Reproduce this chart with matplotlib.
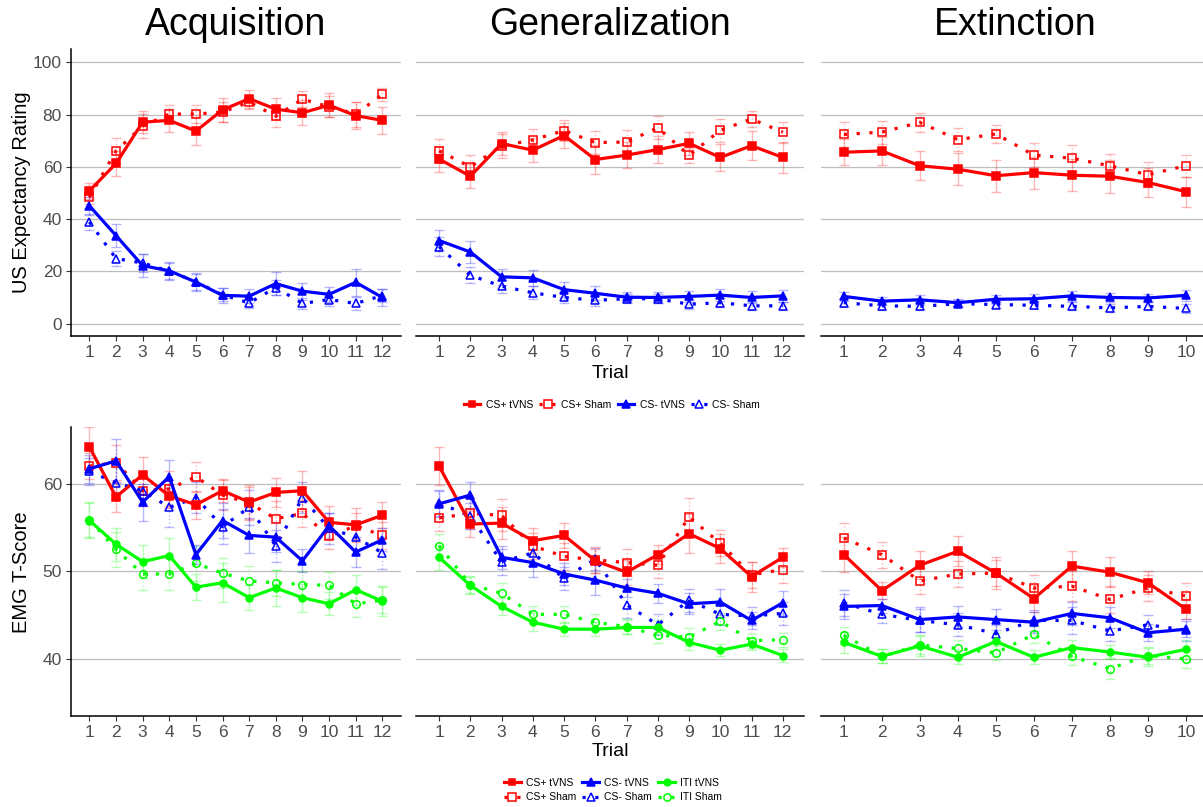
import matplotlib
matplotlib.use("Agg")
import matplotlib.pyplot as plt
from matplotlib.lines import Line2D

plt.rcParams['font.family'] = ['Liberation Sans', 'DejaVu Sans']

# ---------------- data ----------------
phases = ["Acquisition", "Generalization", "Extinction"]
trials_acq = list(range(1, 13))
trials_gen = list(range(1, 13))
trials_ext = list(range(1, 11))

# US expectancy rating (top row)
us_acq_csp_tvns = [50.8, 61.3, 77.1, 77.8, 73.7, 81.8, 86.1, 82.1, 80.7, 83.6, 79.6, 77.8]
us_acq_csp_tvns_se = [3.2, 4.9, 4.1, 4.3, 5.3, 4.7, 3.5, 4.3, 4.7, 4.6, 5.1, 5.2]
us_acq_csp_sham = [48.3, 66.1, 75.6, 80.2, 80.2, 81.0, 84.8, 79.4, 85.9, 83.0, 80.2, 87.7]
us_acq_csp_sham_se = [2.5, 4.8, 4.7, 3.6, 3.5, 4.0, 2.5, 4.3, 3.0, 4.0, 4.8, 2.5]
us_acq_csm_tvns = [45.1, 33.7, 22.2, 20.2, 15.9, 10.8, 10.5, 15.3, 12.4, 11.2, 15.8, 10.0]
us_acq_csm_tvns_se = [3.5, 4.4, 4.3, 3.5, 3.5, 2.9, 2.8, 4.4, 3.2, 2.8, 5.1, 3.1]
us_acq_csm_sham = [38.9, 24.9, 23.2, 20.1, 16.0, 11.0, 7.9, 13.8, 7.7, 9.2, 7.7, 10.7]
us_acq_csm_sham_se = [3.0, 3.0, 3.5, 3.0, 3.0, 2.5, 2.0, 3.0, 2.0, 2.5, 2.5, 2.5]

us_gen_csp_tvns = [63.0, 56.4, 68.9, 66.4, 72.0, 62.8, 64.5, 66.6, 69.0, 63.6, 68.1, 63.6]
us_gen_csp_tvns_se = [5.1, 4.5, 4.5, 4.7, 4.8, 5.4, 5.1, 5.1, 4.5, 5.3, 5.6, 5.9]
us_gen_csp_sham = [66.1, 60.0, 68.0, 70.3, 73.9, 69.3, 69.5, 75.0, 64.4, 74.0, 78.3, 73.3]
us_gen_csp_sham_se = [4.7, 4.5, 4.5, 4.0, 4.0, 4.5, 4.5, 4.5, 3.0, 4.5, 3.0, 4.0]
us_gen_csm_tvns = [31.8, 27.4, 17.9, 17.5, 13.0, 11.6, 10.1, 10.0, 10.4, 10.9, 10.0, 10.6]
us_gen_csm_tvns_se = [4.0, 4.3, 3.0, 3.1, 2.8, 2.6, 2.0, 2.0, 2.2, 2.3, 2.3, 2.4]
us_gen_csm_sham = [29.5, 18.5, 14.3, 11.8, 10.0, 8.9, 9.5, 9.5, 7.4, 8.0, 6.8, 6.8]
us_gen_csm_sham_se = [3.5, 3.0, 2.5, 2.5, 2.0, 2.0, 1.8, 1.8, 1.8, 1.8, 1.5, 1.5]

us_ext_csp_tvns = [65.6, 66.1, 60.4, 59.1, 56.6, 57.8, 56.8, 56.4, 54.0, 50.5]
us_ext_csp_tvns_se = [5.0, 5.3, 5.6, 6.1, 6.2, 6.1, 6.2, 6.4, 5.4, 5.8]
us_ext_csp_sham = [72.4, 73.3, 77.0, 70.4, 72.6, 64.5, 63.3, 60.4, 57.0, 60.4]
us_ext_csp_sham_se = [4.7, 4.4, 3.6, 4.5, 3.5, 4.7, 4.9, 4.7, 4.9, 4.1]
us_ext_csm_tvns = [10.4, 8.6, 9.1, 8.0, 9.3, 9.5, 10.6, 10.0, 9.8, 10.8]
us_ext_csm_tvns_se = [1.8, 1.6, 1.8, 1.3, 1.7, 1.8, 1.8, 1.8, 1.7, 2.0]
us_ext_csm_sham = [8.0, 6.8, 6.6, 7.6, 7.3, 7.0, 6.6, 6.0, 6.6, 5.8]
us_ext_csm_sham_se = [1.7, 1.5, 1.5, 1.3, 1.5, 1.5, 1.5, 1.5, 1.5, 1.7]

# EMG T-score (bottom row)
emg_acq_csp_tvns = [64.2, 58.5, 61.0, 58.6, 57.6, 59.2, 57.9, 59.0, 59.2, 55.6, 55.3, 56.4]
emg_acq_csp_tvns_se = [2.3, 1.7, 2.1, 1.4, 1.6, 1.3, 2.0, 1.7, 2.3, 1.8, 1.9, 1.5]
emg_acq_csp_sham = [62.0, 62.4, 59.2, 59.4, 60.8, 58.7, 57.8, 56.0, 56.6, 54.0, 55.2, 54.1]
emg_acq_csp_sham_se = [1.5, 2.0, 1.7, 2.0, 1.7, 1.7, 1.8, 2.0, 1.5, 1.5, 1.5, 1.5]
emg_acq_csm_tvns = [61.7, 62.6, 57.9, 60.8, 51.9, 55.8, 54.1, 53.9, 51.2, 55.2, 52.2, 53.6]
emg_acq_csm_tvns_se = [1.6, 2.5, 2.1, 1.9, 1.1, 2.0, 2.0, 1.7, 1.3, 1.5, 1.7, 1.3]
emg_acq_csm_sham = [61.4, 60.1, 59.2, 57.3, 58.4, 55.1, 57.3, 52.9, 58.4, 54.9, 53.9, 52.1]
emg_acq_csm_sham_se = [1.5, 1.8, 1.7, 2.2, 1.8, 2.0, 2.0, 1.8, 1.8, 1.8, 1.8, 1.8]
emg_acq_iti_tvns = [55.8, 53.1, 51.1, 51.8, 48.2, 48.7, 47.0, 48.1, 47.0, 46.3, 47.9, 46.6]
emg_acq_iti_tvns_se = [2.0, 1.9, 1.9, 2.0, 1.5, 2.2, 1.4, 2.0, 1.6, 1.3, 1.7, 1.7]
emg_acq_iti_sham = [55.9, 52.5, 49.7, 49.7, 50.9, 49.8, 48.9, 48.7, 48.5, 48.4, 46.3, 46.7]
emg_acq_iti_sham_se = [2.0, 2.0, 1.8, 1.8, 2.0, 1.7, 1.7, 1.5, 1.5, 1.5, 1.5, 1.5]

emg_gen_csp_tvns = [62.0, 55.4, 55.5, 53.5, 54.1, 51.2, 49.9, 51.9, 54.3, 52.6, 49.4, 51.6]
emg_gen_csp_tvns_se = [2.2, 1.5, 1.8, 1.4, 1.4, 1.4, 1.4, 1.1, 2.2, 1.7, 1.7, 1.1]
emg_gen_csp_sham = [56.1, 56.6, 56.4, 52.9, 51.7, 51.3, 51.0, 50.7, 56.2, 53.2, 49.6, 50.2]
emg_gen_csp_sham_se = [1.5, 1.8, 1.8, 1.5, 1.5, 1.5, 1.5, 1.5, 2.2, 1.5, 1.5, 1.5]
emg_gen_csm_tvns = [57.7, 58.7, 51.6, 51.0, 49.7, 49.0, 48.1, 47.5, 46.3, 46.5, 44.4, 46.4]
emg_gen_csm_tvns_se = [1.5, 1.5, 1.3, 1.6, 1.3, 1.7, 1.0, 1.1, 1.2, 1.5, 1.0, 1.4]
emg_gen_csm_sham = [57.8, 56.3, 51.1, 52.1, 49.2, 51.4, 46.2, 43.9, 46.7, 45.1, 44.9, 45.2]
emg_gen_csm_sham_se = [1.5, 1.5, 1.5, 1.2, 1.3, 1.3, 1.5, 1.2, 1.3, 1.2, 1.0, 1.3]
emg_gen_iti_tvns = [51.6, 48.4, 46.0, 44.2, 43.4, 43.4, 43.6, 43.6, 41.9, 41.0, 41.7, 40.4]
emg_gen_iti_tvns_se = [1.4, 1.0, 1.0, 1.0, 0.8, 0.8, 0.8, 0.8, 0.9, 0.7, 0.7, 0.7]
emg_gen_iti_sham = [52.9, 48.5, 47.5, 45.1, 45.1, 44.2, 43.7, 42.7, 42.5, 44.3, 42.1, 42.2]
emg_gen_iti_sham_se = [1.4, 1.0, 1.2, 1.0, 1.0, 0.9, 0.9, 0.9, 1.0, 1.0, 0.8, 0.8]

emg_ext_csp_tvns = [51.9, 47.8, 50.7, 52.3, 49.8, 46.9, 50.6, 49.9, 48.7, 45.7]
emg_ext_csp_tvns_se = [2.0, 1.0, 1.6, 1.7, 1.8, 1.5, 1.7, 1.7, 1.3, 1.1]
emg_ext_csp_sham = [53.8, 51.9, 48.9, 49.7, 49.8, 48.1, 48.3, 46.8, 48.1, 47.2]
emg_ext_csp_sham_se = [1.7, 1.5, 1.5, 1.5, 1.5, 1.5, 1.7, 1.5, 1.5, 1.5]
emg_ext_csm_tvns = [46.0, 46.1, 44.5, 44.8, 44.5, 44.2, 45.2, 44.7, 43.0, 43.4]
emg_ext_csm_tvns_se = [1.4, 0.8, 1.4, 1.2, 1.2, 1.2, 1.3, 1.2, 1.0, 0.9]
emg_ext_csm_sham = [46.4, 45.1, 44.4, 43.9, 42.9, 44.4, 44.4, 43.2, 43.9, 43.3]
emg_ext_csm_sham_se = [1.5, 1.0, 1.3, 1.3, 1.0, 1.2, 1.5, 1.2, 1.1, 1.3]
emg_ext_iti_tvns = [41.9, 40.3, 41.5, 40.2, 42.0, 40.2, 41.3, 40.8, 40.2, 41.1]
emg_ext_iti_tvns_se = [1.2, 0.8, 1.2, 0.8, 1.0, 0.8, 0.9, 0.8, 1.0, 1.1]
emg_ext_iti_sham = [42.7, 40.3, 41.6, 41.2, 40.7, 42.8, 40.3, 38.9, 40.4, 40.0]
emg_ext_iti_sham_se = [1.0, 0.8, 1.0, 1.0, 0.8, 1.0, 1.0, 1.2, 1.0, 1.0]

# ---------------- styling ----------------
RED, BLUE, GREEN = "#FF0000", "#0000FF", "#00FF00"
DOT = (0, (1, 3))
W, H = 1203, 807

fig = plt.figure(figsize=(W / 100, H / 100), dpi=100)

def px_axes(x0, y0, x1, y1):
    return fig.add_axes([x0 / W, 1 - y1 / H, (x1 - x0) / W, (y1 - y0) / H])

panel_x = [(71, 400.7), (416.3, 804.3), (820.7, 1208.7)]
xlims = [(0.31, 12.69), (0.27, 12.69), (0.39, 10.6)]
row_y = [(49.3, 335.6), (426.7, 716.0)]

def series(ax, x, m, se, color, marker, sham, ms):
    eb = ax.errorbar(x, m, yerr=se, fmt='none', ecolor=color, alpha=0.28,
                     elinewidth=1.0, capsize=3.5, capthick=1.0, zorder=2)
    if sham:
        for lc in eb[2]:
            lc.set_linestyle(':')
    ax.plot(x, m, color=color, lw=2.3, ls=DOT if sham else '-',
            marker=marker, ms=ms, mfc='none' if sham else color, mec=color,
            mew=1.1, zorder=3)

def style(ax, i, xl, ticks, ylim, yticks):
    ax.set_xlim(*xl)
    ax.set_ylim(*ylim)
    ax.set_xticks(ticks)
    ax.set_yticks(yticks)
    for s in ['top', 'right']:
        ax.spines[s].set_visible(False)
    ax.spines['bottom'].set_linewidth(1.1)
    ax.spines['bottom'].set_color('black')
    ax.yaxis.grid(True, color='#BEBEBE', lw=0.9)
    ax.set_axisbelow(True)
    ax.tick_params(axis='x', labelsize=12.5, labelcolor='#4D4D4D', color='#333333',
                   length=3.5, width=0.8, pad=3)
    if i == 0:
        ax.spines['left'].set_linewidth(1.1)
        ax.spines['left'].set_color('black')
        ax.tick_params(axis='y', labelsize=12.5, labelcolor='#4D4D4D', color='#333333',
                       length=3.5, width=0.8, pad=3)
    else:
        ax.spines['left'].set_visible(False)
        ax.tick_params(axis='y', length=0, labelleft=False)

trials = [trials_acq, trials_gen, trials_ext]

us_sets = [
    (us_acq_csp_tvns, us_acq_csp_tvns_se, us_acq_csp_sham, us_acq_csp_sham_se,
     us_acq_csm_tvns, us_acq_csm_tvns_se, us_acq_csm_sham, us_acq_csm_sham_se),
    (us_gen_csp_tvns, us_gen_csp_tvns_se, us_gen_csp_sham, us_gen_csp_sham_se,
     us_gen_csm_tvns, us_gen_csm_tvns_se, us_gen_csm_sham, us_gen_csm_sham_se),
    (us_ext_csp_tvns, us_ext_csp_tvns_se, us_ext_csp_sham, us_ext_csp_sham_se,
     us_ext_csm_tvns, us_ext_csm_tvns_se, us_ext_csm_sham, us_ext_csm_sham_se),
]
emg_sets = [
    (emg_acq_csp_tvns, emg_acq_csp_tvns_se, emg_acq_csp_sham, emg_acq_csp_sham_se,
     emg_acq_csm_tvns, emg_acq_csm_tvns_se, emg_acq_csm_sham, emg_acq_csm_sham_se,
     emg_acq_iti_tvns, emg_acq_iti_tvns_se, emg_acq_iti_sham, emg_acq_iti_sham_se),
    (emg_gen_csp_tvns, emg_gen_csp_tvns_se, emg_gen_csp_sham, emg_gen_csp_sham_se,
     emg_gen_csm_tvns, emg_gen_csm_tvns_se, emg_gen_csm_sham, emg_gen_csm_sham_se,
     emg_gen_iti_tvns, emg_gen_iti_tvns_se, emg_gen_iti_sham, emg_gen_iti_sham_se),
    (emg_ext_csp_tvns, emg_ext_csp_tvns_se, emg_ext_csp_sham, emg_ext_csp_sham_se,
     emg_ext_csm_tvns, emg_ext_csm_tvns_se, emg_ext_csm_sham, emg_ext_csm_sham_se,
     emg_ext_iti_tvns, emg_ext_iti_tvns_se, emg_ext_iti_sham, emg_ext_iti_sham_se),
]

MS_SQ, MS_TRI, MS_CIR = 5.2, 5.8, 5.0

for i in range(3):
    x = trials[i]
    # top row
    ax = px_axes(panel_x[i][0], row_y[0][0], panel_x[i][1], row_y[0][1])
    d = us_sets[i]
    series(ax, x, d[2], d[3], RED, 's', True, MS_SQ + 0.6)
    series(ax, x, d[6], d[7], BLUE, '^', True, MS_TRI + 0.6)
    series(ax, x, d[0], d[1], RED, 's', False, MS_SQ)
    series(ax, x, d[4], d[5], BLUE, '^', False, MS_TRI)
    style(ax, i, xlims[i], x, (-4.6, 105), [0, 20, 40, 60, 80, 100])
    # bottom row
    ax = px_axes(panel_x[i][0], row_y[1][0], panel_x[i][1], row_y[1][1])
    d = emg_sets[i]
    series(ax, x, d[2], d[3], RED, 's', True, MS_SQ + 0.6)
    series(ax, x, d[6], d[7], BLUE, '^', True, MS_TRI + 0.6)
    series(ax, x, d[10], d[11], GREEN, 'o', True, MS_CIR + 0.5)
    series(ax, x, d[0], d[1], RED, 's', False, MS_SQ)
    series(ax, x, d[4], d[5], BLUE, '^', False, MS_TRI)
    series(ax, x, d[8], d[9], GREEN, 'o', False, MS_CIR)
    style(ax, i, xlims[i], x, (33.5, 66.5), [40, 50, 60])

# titles
title_x = [(a + b) / 2 for a, b in panel_x]
for t, cx in zip(phases, title_x):
    fig.text(cx / W, 1 - 25 / H, t, ha='center', va='center', fontsize=27, color='black')

# axis titles
fig.text(21.7 / W, 1 - 191.7 / H, "US Expectancy Rating", rotation=90,
         ha='center', va='center', fontsize=14.5)
fig.text(22 / W, 1 - 571.7 / H, "EMG T-Score", rotation=90,
         ha='center', va='center', fontsize=14.5)
fig.text(610 / W, 1 - 373 / H, "Trial", ha='center', va='center', fontsize=14)
fig.text(610 / W, 1 - 751 / H, "Trial", ha='center', va='center', fontsize=14)

# legends
def h(color, marker, sham, ms):
    return Line2D([], [], color=color, lw=2.3, ls=DOT if sham else '-',
                  marker=marker, ms=ms, mfc='none' if sham else color, mec=color, mew=1.1)

top_handles = [h(RED, 's', False, 5), h(RED, 's', True, 5.5),
               h(BLUE, '^', False, 5.5), h(BLUE, '^', True, 6)]
top_labels = ["CS+ tVNS", "CS+ Sham", "CS- tVNS", "CS- Sham"]
fig.legend(top_handles, top_labels, loc='center', bbox_to_anchor=(612 / W, 1 - 405 / H),
           ncol=4, frameon=False, fontsize=7.5, handlelength=1.6, handletextpad=0.5,
           columnspacing=0.6)

bot_handles = [h(RED, 's', False, 5), h(RED, 's', True, 5.5),
               h(BLUE, '^', False, 5.5), h(BLUE, '^', True, 6),
               h(GREEN, 'o', False, 4.8), h(GREEN, 'o', True, 5.2)]
bot_labels = ["CS+ tVNS", "CS+ Sham", "CS- tVNS", "CS- Sham", "ITI tVNS", "ITI Sham"]
fig.legend(bot_handles, bot_labels, loc='center', bbox_to_anchor=(613 / W, 1 - 790 / H),
           ncol=3, frameon=False, fontsize=7.5, handlelength=1.6, handletextpad=0.5,
           columnspacing=0.6, labelspacing=0.45)

fig.savefig("out.png", dpi=100)
